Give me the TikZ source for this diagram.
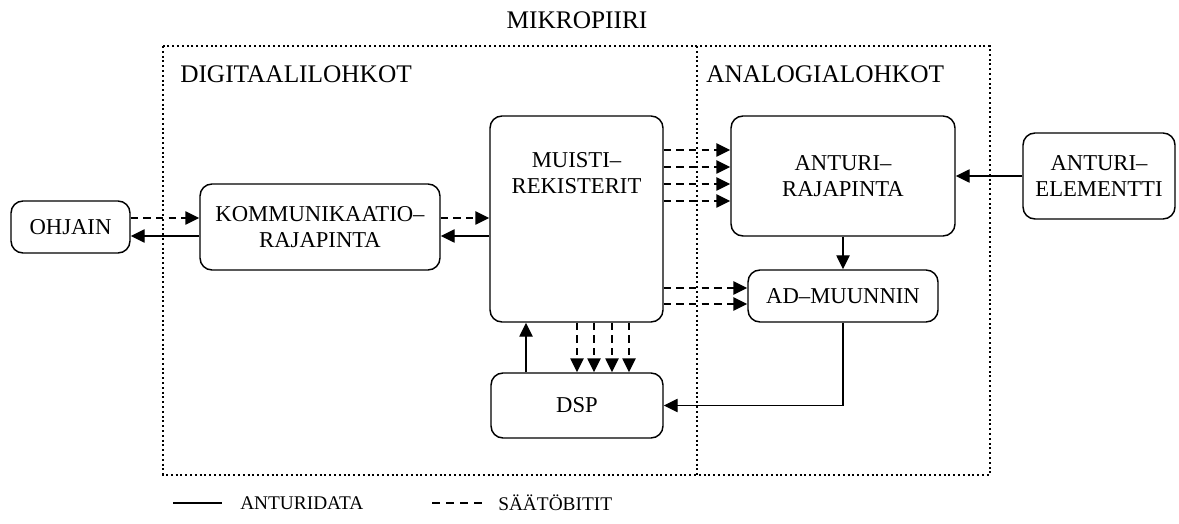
\documentclass[tikz,border=0pt]{standalone}
\usepackage{fontspec}
\setmainfont{Liberation Serif}
\usetikzlibrary{arrows.meta,calc}
\newlength{\pxu}
\setlength{\pxu}{0.75pt}
\begin{document}
\begin{tikzpicture}[x=0.75pt,y=-0.75pt,
  blk/.style={draw,line width=1.1pt,rounded corners=9pt,inner sep=0pt,align=center,
    font=\fontsize{17}{19.5}\selectfont},
  lbl/.style={inner sep=0pt,font=\fontsize{19}{22}\selectfont},
  leg/.style={inner sep=0pt,font=\fontsize{14.5}{16}\selectfont},
  frame/.style={line width=1.6pt,dash pattern=on 1.5pt off 2.1pt},
  sol/.style={line width=1.1pt,-{Triangle[length=10.5pt,width=10pt]}},
  dsh/.style={line width=1.1pt,dash pattern=on 5.5pt off 4pt,-{Triangle[length=10.5pt,width=10pt]}}]
\useasboundingbox (0,0) rectangle (1179,524);
% frame
\draw[frame] (163,46) rectangle (990,475);
\draw[frame] (697,46) -- (697,475);
\node[lbl] (title) at (577,20) {MIKROPIIRI};
\node[lbl,anchor=west] (dig) at (180,74) {DIGITAALILOHKOT};
\node[lbl,anchor=west] (ana) at (706,74) {ANALOGIALOHKOT};
% blocks
\node[blk,minimum width=119\pxu,minimum height=52\pxu] (ohjain) at (70.5,227) {OHJAIN};
\node[blk,minimum width=240\pxu,minimum height=86\pxu] (komm) at (320,227) {KOMMUNIKAATIO–\\RAJAPINTA};
\node[blk,minimum width=173\pxu,minimum height=206\pxu] (muisti) at (576.5,219) {};
\node[inner sep=0pt,align=center,font=\fontsize{17}{19.5}\selectfont] (muistitxt) at (576.5,173) {MUISTI–\\REKISTERIT};
\node[blk,minimum width=224\pxu,minimum height=120\pxu] (anturi) at (843,176) {ANTURI–\\RAJAPINTA};
\node[blk,minimum width=152\pxu,minimum height=86\pxu] (elem) at (1099,176) {ANTURI–\\ELEMENTTI};
\node[blk,minimum width=190\pxu,minimum height=52\pxu] (ad) at (843,296) {AD–MUUNNIN};
\node[blk,minimum width=172\pxu,minimum height=65\pxu] (dsp) at (577,405.5) {DSP};
% connectors
\draw[dsh] (ohjain.east |- 0,218) -- (komm.west |- 0,218);
\draw[sol] (komm.west |- 0,236) -- (ohjain.east |- 0,236);
\draw[dsh] (komm.east |- 0,218) -- (muisti.west |- 0,218);
\draw[sol] (muisti.west |- 0,236) -- (komm.east |- 0,236);
\foreach \yy in {150,167,184,201}
  \draw[dsh] (muisti.east |- 0,\yy) -- (anturi.west |- 0,\yy);
\foreach \yy in {288,304}
  \draw[dsh] (muisti.east |- 0,\yy) -- (ad.west |- 0,\yy);
\foreach \xx in {577,594,612,629}
  \draw[dsh] (muisti.south -| \xx,0) -- (dsp.north -| \xx,0);
\draw[sol] (dsp.north -| 526,0) -- (muisti.south -| 526,0);
\draw[sol] (elem.west) -- (anturi.east);
\draw[sol] (anturi.south) -- (ad.north);
\draw[sol] (ad.south) |- (dsp.east);
% legend
\coordinate (l1a) at (173,503);
\coordinate (l1b) at (222,503);
\coordinate (l2a) at (432,503);
\coordinate (l2b) at (482,503);
\draw[line width=1.1pt] (l1a) -- (l1b);
\draw[line width=1.1pt,dash pattern=on 6pt off 4.5pt] (l2a) -- (l2b);
\node[leg,anchor=west] (legA) at (240,503) {ANTURIDATA};
\node[leg,anchor=west] (legB) at (498,503) {SÄÄTÖBITIT};
\end{tikzpicture}
\end{document}
